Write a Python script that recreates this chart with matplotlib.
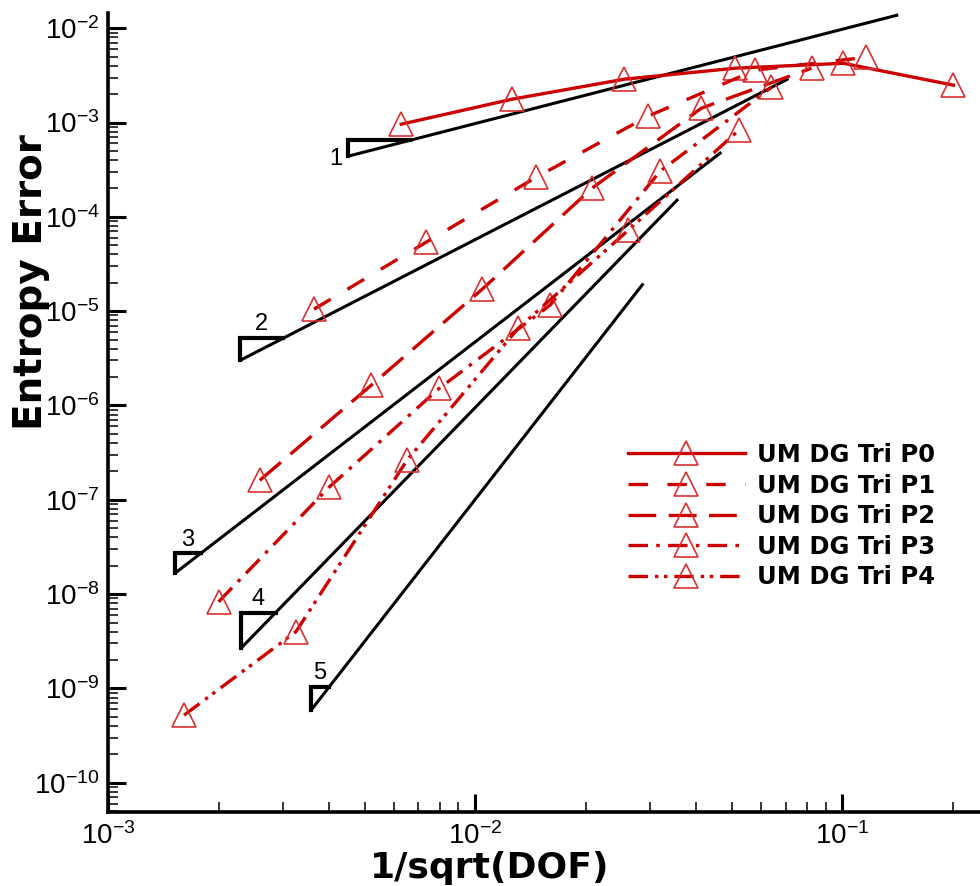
import numpy as np
import matplotlib
matplotlib.use('Agg')
import matplotlib.pyplot as plt
from matplotlib.ticker import FixedLocator, LogLocator, FuncFormatter, NullFormatter

plt.rcParams['font.family'] = ['Liberation Sans', 'DejaVu Sans']
plt.rcParams['mathtext.fontset'] = 'custom'
plt.rcParams['mathtext.rm'] = 'Liberation Sans'
plt.rcParams['mathtext.it'] = 'Liberation Sans:italic'
plt.rcParams['mathtext.bf'] = 'Liberation Sans:bold'
plt.rcParams['lines.scale_dashes'] = False

# ---------------- data ----------------
labels = ['UM DG Tri P0', 'UM DG Tri P1', 'UM DG Tri P2', 'UM DG Tri P3', 'UM DG Tri P4']

p0_x = [6.29e-3, 1.262e-2, 2.547e-2, 5.11e-2, 0.1006, 0.2006]
p0_y = [9.6e-4, 1.77e-3, 2.88e-3, 3.77e-3, 4.25e-3, 2.49e-3]

p1_x = [3.64e-3, 7.35e-3, 1.466e-2, 2.96e-2, 5.79e-2, 0.116]
p1_y = [1.05e-5, 5.38e-5, 2.63e-4, 1.17e-3, 3.59e-3, 4.92e-3]

p2_x = [2.59e-3, 5.21e-3, 1.045e-2, 2.08e-2, 4.13e-2, 8.24e-2]
p2_y = [1.61e-7, 1.64e-6, 1.71e-5, 2.01e-4, 1.42e-3, 3.77e-3]

p3_x = [2.0e-3, 4.0e-3, 7.98e-3, 1.6e-2, 3.19e-2, 6.41e-2]
p3_y = [8.3e-9, 1.36e-7, 1.52e-6, 1.16e-5, 3.05e-4, 2.37e-3]

p4_x = [1.61e-3, 3.25e-3, 6.53e-3, 1.31e-2, 2.61e-2, 5.24e-2]
p4_y = [5.2e-10, 4.0e-9, 2.65e-7, 6.6e-6, 7.2e-5, 8.4e-4]

# reference slope lines
slope_orders = [1, 2, 3, 4, 5]
slope_x0 = [4.51e-3, 2.29e-3, 1.52e-3, 2.30e-3, 3.57e-3]
slope_y0 = [4.4e-4, 3.01e-6, 1.66e-8, 2.66e-9, 5.86e-10]
slope_x1 = [0.142, 0.0713, 0.0468, 0.0357, 0.0287]
tri_x = [6.66e-3, 3.0e-3, 1.79e-3, 2.86e-3, 4.0e-3]

x_major = [1e-3, 1e-2, 1e-1]
y_major = [1e-10, 1e-9, 1e-8, 1e-7, 1e-6, 1e-5, 1e-4, 1e-3, 1e-2]

xs_all = [p0_x, p1_x, p2_x, p3_x, p4_x]
ys_all = [p0_y, p1_y, p2_y, p3_y, p4_y]

# ---------------- style ----------------
RED = '#cc0000'
MRED = '#d83030'
linestyles = ['-',
              (0, (14, 14)),
              (0, (20, 9)),
              (0, (14, 6, 2.5, 6)),
              (0, (14, 5, 2.5, 4, 2.5, 5))]
BOLD = ['DejaVu Sans']

fig = plt.figure(figsize=(9.8, 8.86), dpi=100)
ax = fig.add_axes([108 / 980, 74 / 886, (980 - 108) / 980, (812 - 13) / 886])
ax.set_xscale('log')
ax.set_yscale('log')
ax.set_xlim(1e-3, 0.237)
ax.set_ylim(4.9e-11, 1.45e-2)

for x, y, lab, ls in zip(xs_all, ys_all, labels, linestyles):
    ax.plot(x, y, color=RED, lw=2.4, ls=ls, marker='^', ms=17, mfc='none',
            mec=MRED, mew=1.2, label=lab, zorder=3)

for p, x0, y0, x1, xt in zip(slope_orders, slope_x0, slope_y0, slope_x1, tri_x):
    xs = np.array([x0, x1])
    ys = y0 * (xs / x0) ** p
    ax.plot(xs, ys, color='k', lw=2.2, zorder=2, solid_capstyle='butt')
    yt = y0 * (xt / x0) ** p
    ax.plot([xt, x0, x0], [yt, yt, y0], color='k', lw=3.0, zorder=2,
            solid_joinstyle='miter')
    if p == 1:
        ax.annotate(str(p), (x0, y0), xytext=(-4, -2), textcoords='offset points',
                    ha='right', va='center', fontsize=17)
    else:
        ax.annotate(str(p), (np.sqrt(x0 * xt), yt), xytext=(0, 2),
                    textcoords='offset points', ha='center', va='bottom', fontsize=17)

for s in ['top', 'right']:
    ax.spines[s].set_visible(False)
for s in ['left', 'bottom']:
    ax.spines[s].set_linewidth(2.6)

fmt = FuncFormatter(lambda v, pos: r'$\mathregular{10^{%d}}$' % int(round(np.log10(v))))
for axis, maj in [(ax.xaxis, x_major), (ax.yaxis, y_major)]:
    axis.set_major_locator(FixedLocator(maj))
    axis.set_minor_locator(LogLocator(base=10, subs=np.arange(2, 10), numticks=30))
    axis.set_major_formatter(fmt)
    axis.set_minor_formatter(NullFormatter())

ax.tick_params(which='major', direction='in', length=13, width=2.2, labelsize=20)
ax.tick_params(axis='x', which='major', pad=7)
ax.tick_params(axis='y', which='major', pad=6)
ax.tick_params(which='minor', direction='in', length=7, width=1.1)

ax.set_xlabel('1/sqrt(DOF)', fontsize=26, fontweight='bold', family=BOLD)
ax.xaxis.set_label_coords((490 - 108) / 872, (812 - 868) / 799)
ax.xaxis.label.set_va('center')
ax.set_ylabel('Entropy Error', fontsize=28, fontweight='bold', family=BOLD)
ax.yaxis.set_label_coords((31 - 108) / 872, (812 - 282) / 799)
ax.yaxis.label.set_va('center')

leg = ax.legend(loc='upper left', bbox_to_anchor=(628 / 980, (886 - 443) / 886),
                bbox_transform=fig.transFigure, frameon=False, borderpad=0,
                borderaxespad=0, handlelength=4.8, handletextpad=0.5,
                labelspacing=0.27, numpoints=1,
                prop={'weight': 'bold', 'size': 17.5, 'family': BOLD})

fig.savefig('out.png', dpi=100)
